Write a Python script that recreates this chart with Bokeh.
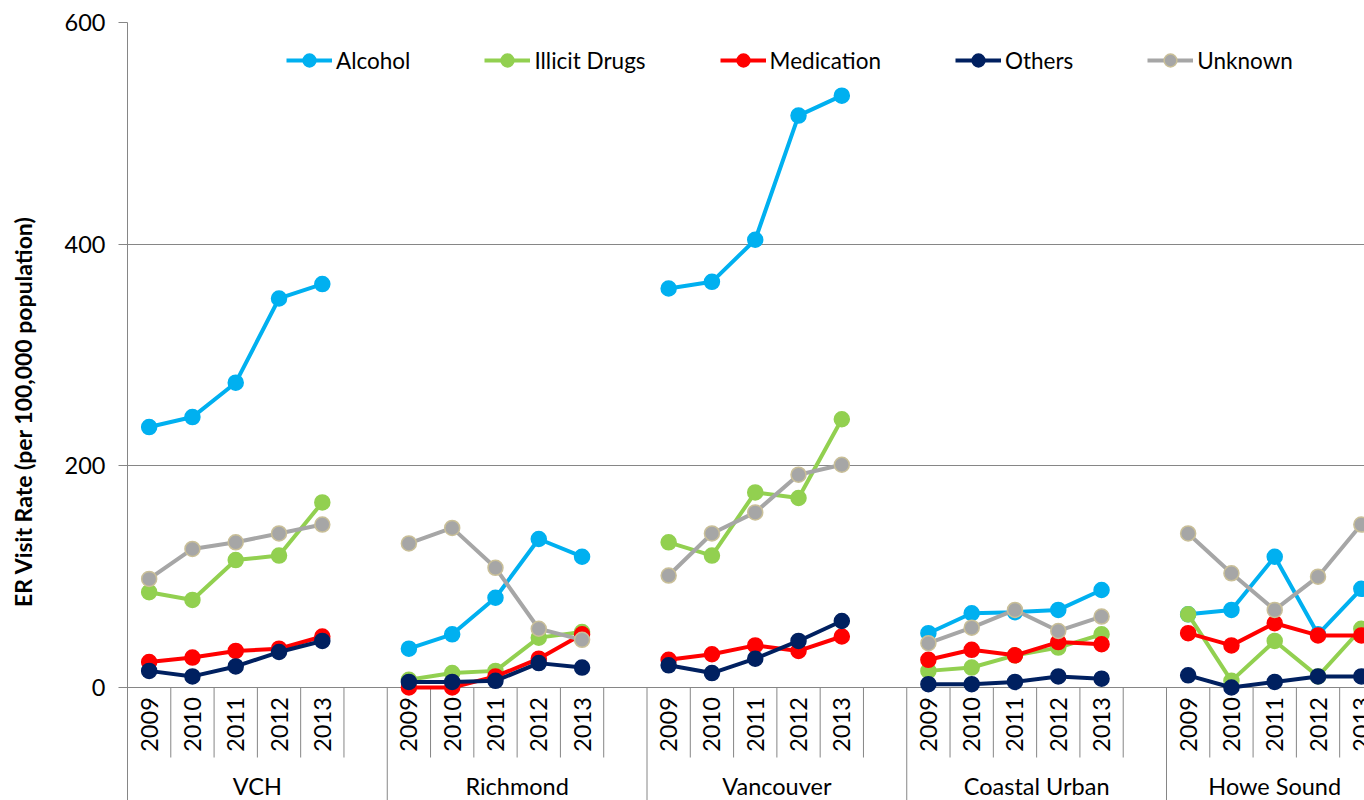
import math
from bokeh.plotting import figure
from bokeh.models import Range1d, FixedTicker, Legend, LegendItem
from bokeh.core.properties import value
from bokeh.embed import file_html
from bokeh.resources import INLINE

# ---------------- data ----------------
groups = ["VCH", "Richmond", "Vancouver", "Coastal Urban", "Howe Sound"]
years = ["2009", "2010", "2011", "2012", "2013"]

alcohol = [235, 244, 275, 351, 364,
           35, 48, 81, 134, 118,
           360, 366, 404, 516, 534,
           49, 67, 68, 70, 88,
           66, 70, 118, 48, 89]
illicit_drugs = [86, 79, 115, 119, 167,
                 7, 13, 15, 45, 50,
                 131, 119, 176, 171, 242,
                 15, 18, 29, 36, 48,
                 66, 6, 42, 10, 53]
medication = [23, 27, 33, 35, 46,
              0, 0, 10, 26, 48,
              25, 30, 38, 33, 46,
              25, 34, 29, 41, 39,
              49, 38, 58, 47, 47]
others = [15, 10, 19, 32, 42,
          5, 5, 6, 22, 18,
          20, 13, 26, 42, 60,
          3, 3, 5, 10, 8,
          11, 0, 5, 10, 10]
unknown = [98, 125, 131, 139, 147,
           130, 144, 108, 53, 43,
           101, 139, 158, 192, 201,
           40, 54, 70, 51, 64,
           139, 103, 70, 100, 147]

series_names = ["Alcohol", "Illicit Drugs", "Medication", "Others", "Unknown"]
series_values = [alcohol, illicit_drugs, medication, others, unknown]
y_ticks = [0, 200, 400, 600]

# ---------------- styling ----------------
colors = ["#00b0f0", "#92d050", "#ff0000", "#002060", "#a6a6a6"]
marker_outline = ["#00b0f0", "#92d050", "#ff0000", "#002060", "#c9bf98"]
FONT = "Lato"
GRAY = "#868686"
SLOTS_PER_GROUP = 6
W, H = 1364, 800
FRAME_LEFT, FRAME_TOP, ZERO_PY = 127, 22, 687
PX_PER_UNIT = (ZERO_PY - FRAME_TOP) / 600.0   # vertical pixels per value unit
SLOT_PX = (1166 - 127) / 24.0                 # horizontal pixels per category slot
Y_BOTTOM = -(H - ZERO_PY) / PX_PER_UNIT


def ypix(py):
    return (ZERO_PY - py) / PX_PER_UNIT


p = figure(width=W, height=H,
           x_range=Range1d(0, (W - FRAME_LEFT) / SLOT_PX),
           y_range=Range1d(Y_BOTTOM, 600),
           x_axis_type=None,
           output_backend="svg", toolbar_location=None,
           min_border_left=FRAME_LEFT, min_border_right=0,
           min_border_top=FRAME_TOP, min_border_bottom=0)
p.outline_line_color = None
p.background_fill_color = "white"
p.border_fill_color = "white"

# y axis
p.xgrid.visible = False
p.ygrid.ticker = FixedTicker(ticks=y_ticks)
p.ygrid.grid_line_color = GRAY
p.ygrid.grid_line_width = 1
yax = p.yaxis[0]
yax.ticker = FixedTicker(ticks=y_ticks)
yax.axis_line_color = GRAY
yax.major_tick_line_color = GRAY
yax.major_tick_out = 9
yax.major_tick_in = 0
yax.minor_tick_line_color = None
yax.major_label_text_font = FONT
yax.major_label_text_font_size = "23.5px"
yax.major_label_text_color = "black"
yax.major_label_standoff = 13
yax.axis_label = "ER Visit Rate (per 100,000 population)"
yax.axis_label_text_font = FONT
yax.axis_label_text_font_size = "23px"
yax.axis_label_text_font_style = "bold"
yax.axis_label_text_color = "black"
yax.axis_label_standoff = 25

# category axis (drawn below the zero line)
sep_x, sep_y1 = [], []
n_slots = SLOTS_PER_GROUP * (len(groups) - 1) + len(years)
for k in range(1, n_slots + 1):
    sep_x.append(k)
    sep_y1.append(Y_BOTTOM - 20 if k % SLOTS_PER_GROUP == 0 else ypix(757))
p.segment(x0=sep_x, y0=[0] * len(sep_x), x1=sep_x, y1=sep_y1,
          line_color=GRAY, line_width=1)

yr_x, yr_t = [], []
for g in range(len(groups)):
    for i, yr in enumerate(years):
        yr_x.append(g * SLOTS_PER_GROUP + i + 0.5)
        yr_t.append(yr)
p.text(x=yr_x, y=[ypix(724)] * len(yr_x), text=yr_t, angle=math.pi / 2,
       text_align="center", text_baseline="middle",
       text_font=value(FONT), text_font_size="23.5px", text_color="black")

grp_x = []
for g in range(len(groups)):
    width = SLOTS_PER_GROUP if g < len(groups) - 1 else len(years)
    grp_x.append(g * SLOTS_PER_GROUP + width / 2.0)
p.text(x=grp_x, y=[ypix(785)] * len(grp_x), text=groups,
       text_align="center", text_baseline="middle",
       text_font=value(FONT), text_font_size="23.5px", text_color="black")

# series
items = []
for name, vals, col, oc in zip(series_names, series_values, colors, marker_outline):
    xs, ys = [], []
    for g in range(len(groups)):
        for i in range(len(years)):
            xs.append(g * SLOTS_PER_GROUP + i + 0.5)
            ys.append(vals[g * len(years) + i])
        xs.append(float("nan"))
        ys.append(float("nan"))
    lr = p.line(xs, ys, line_color=col, line_width=4)
    pts_x = [v for v in xs if not math.isnan(v)]
    pts_y = [v for v in ys if not math.isnan(v)]
    sr = p.scatter(pts_x, pts_y, marker="circle", size=15,
                   fill_color=col, line_color=oc, line_width=1.5)
    items.append(LegendItem(label=name, renderers=[lr, sr]))

legend = Legend(items=items, orientation="horizontal",
                location=(286 - FRAME_LEFT, H - 76),
                border_line_color=None, background_fill_alpha=0,
                padding=0, spacing=74, glyph_width=46, glyph_height=32,
                label_height=20, label_standoff=4,
                label_text_font=FONT, label_text_font_size="22.5px",
                label_text_color="black")
p.add_layout(legend)

open("out.html", "w").write(file_html(p, INLINE))
